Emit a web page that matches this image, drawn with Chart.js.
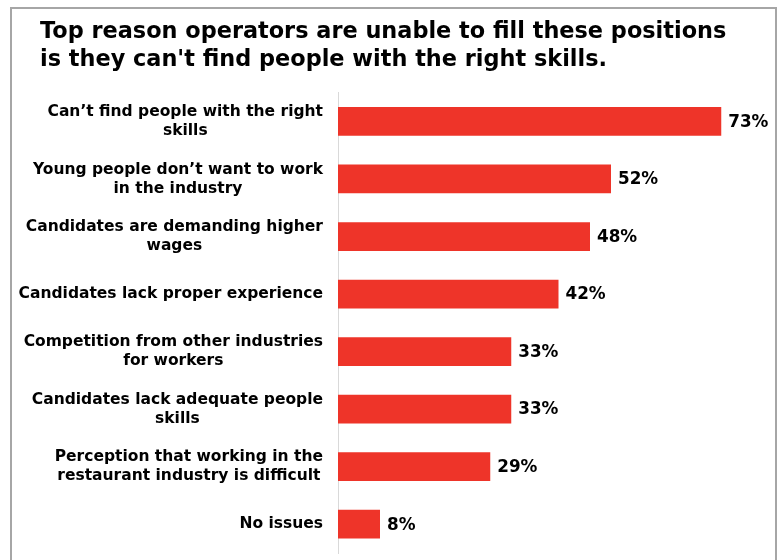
<!DOCTYPE html>
<html>
<head>
<meta charset="utf-8">
<script src="https://cdn.jsdelivr.net/npm/chart.js@4"></script>
<style>
  body { margin: 0; background: #fff; overflow: hidden; }
  #frame { position: absolute; left: 10px; top: 7px; width: 763px; height: 600px; border: 2px solid #a6a6a6; pointer-events: none; }
  #grafico { position: absolute; left: 0; top: 0; }
</style>
</head>
<body>
<div id="frame"></div>
<canvas id="grafico" width="782" height="560"></canvas>
<script>
const tituloLineas = [
    'Top reason operators are unable to fill these positions',
    "is they can't find people with the right skills."
];
const motivos = [
    ['Can’t find people with the right', 'skills'],
    ['Young people don’t want to work', 'in the industry'],
    ['Candidates are demanding higher', 'wages'],
    ['Candidates lack proper experience'],
    ['Competition from other industries', 'for workers'],
    ['Candidates lack adequate people', 'skills'],
    ['Perception that working in the', 'restaurant industry is difficult'],
    ['No issues']
];
const porcentajes = [73, 52, 48, 42, 33, 33, 29, 8];

const fuente = "'DejaVu Sans', Verdana, sans-serif";
Chart.defaults.font.family = fuente;
Chart.defaults.color = '#000';

// etiquetas del eje Y: cada bloque alineado a la derecha, lineas centradas entre si
const etiquetasEje = {
    id: 'etiquetasEje',
    afterDraw(chart) {
        const ctx = chart.ctx;
        const eje = chart.scales.y;
        const alto = 19;
        ctx.save();
        ctx.font = 'bold 15.5px ' + fuente;
        ctx.fillStyle = '#000';
        ctx.textAlign = 'center';
        ctx.textBaseline = 'middle';
        motivos.forEach((lineas, i) => {
            const y = eje.getPixelForValue(i);
            const ancho = Math.max(...lineas.map(l => ctx.measureText(l).width));
            const xc = eje.right - 15 - ancho / 2;
            const y0 = y - (lineas.length - 1) * alto / 2;
            lineas.forEach((l, k) => ctx.fillText(l, xc, y0 + k * alto));
        });
        ctx.restore();
    }
};

// porcentaje al final de cada barra
const valores = {
    id: 'valores',
    afterDatasetsDraw(chart) {
        const ctx = chart.ctx;
        const meta = chart.getDatasetMeta(0);
        ctx.save();
        ctx.font = 'bold 16.8px ' + fuente;
        ctx.fillStyle = '#000';
        ctx.textAlign = 'left';
        ctx.textBaseline = 'middle';
        meta.data.forEach((barra, i) => {
            ctx.fillText(porcentajes[i] + '%', barra.x + 7, barra.y + 1);
        });
        ctx.restore();
    }
};

new Chart(document.getElementById('grafico').getContext('2d'), {
    type: 'bar',
    data: {
        labels: motivos,
        datasets: [{
            data: porcentajes,
            backgroundColor: '#ee3429',
            categoryPercentage: 1,
            barPercentage: 0.5
        }]
    },
    options: {
        indexAxis: 'y',
        responsive: false,
        animation: false,
        layout: { padding: { left: 40, right: 24, bottom: 7, top: 0 } },
        plugins: {
            legend: { display: false },
            tooltip: { enabled: false },
            title: {
                display: true,
                text: tituloLineas,
                align: 'start',
                color: '#000',
                font: { size: 22.4, weight: 'bold', lineHeight: 1.22 },
                padding: { top: 19, bottom: 19 }
            }
        },
        scales: {
            x: { display: false, min: 0, max: 80 },
            y: {
                grid: { display: false },
                border: { display: true, color: '#d9d9d9', width: 1 },
                ticks: { display: false },
                afterFit(scale) { scale.width = 298; }
            }
        }
    },
    plugins: [etiquetasEje, valores]
});
</script>
</body>
</html>
